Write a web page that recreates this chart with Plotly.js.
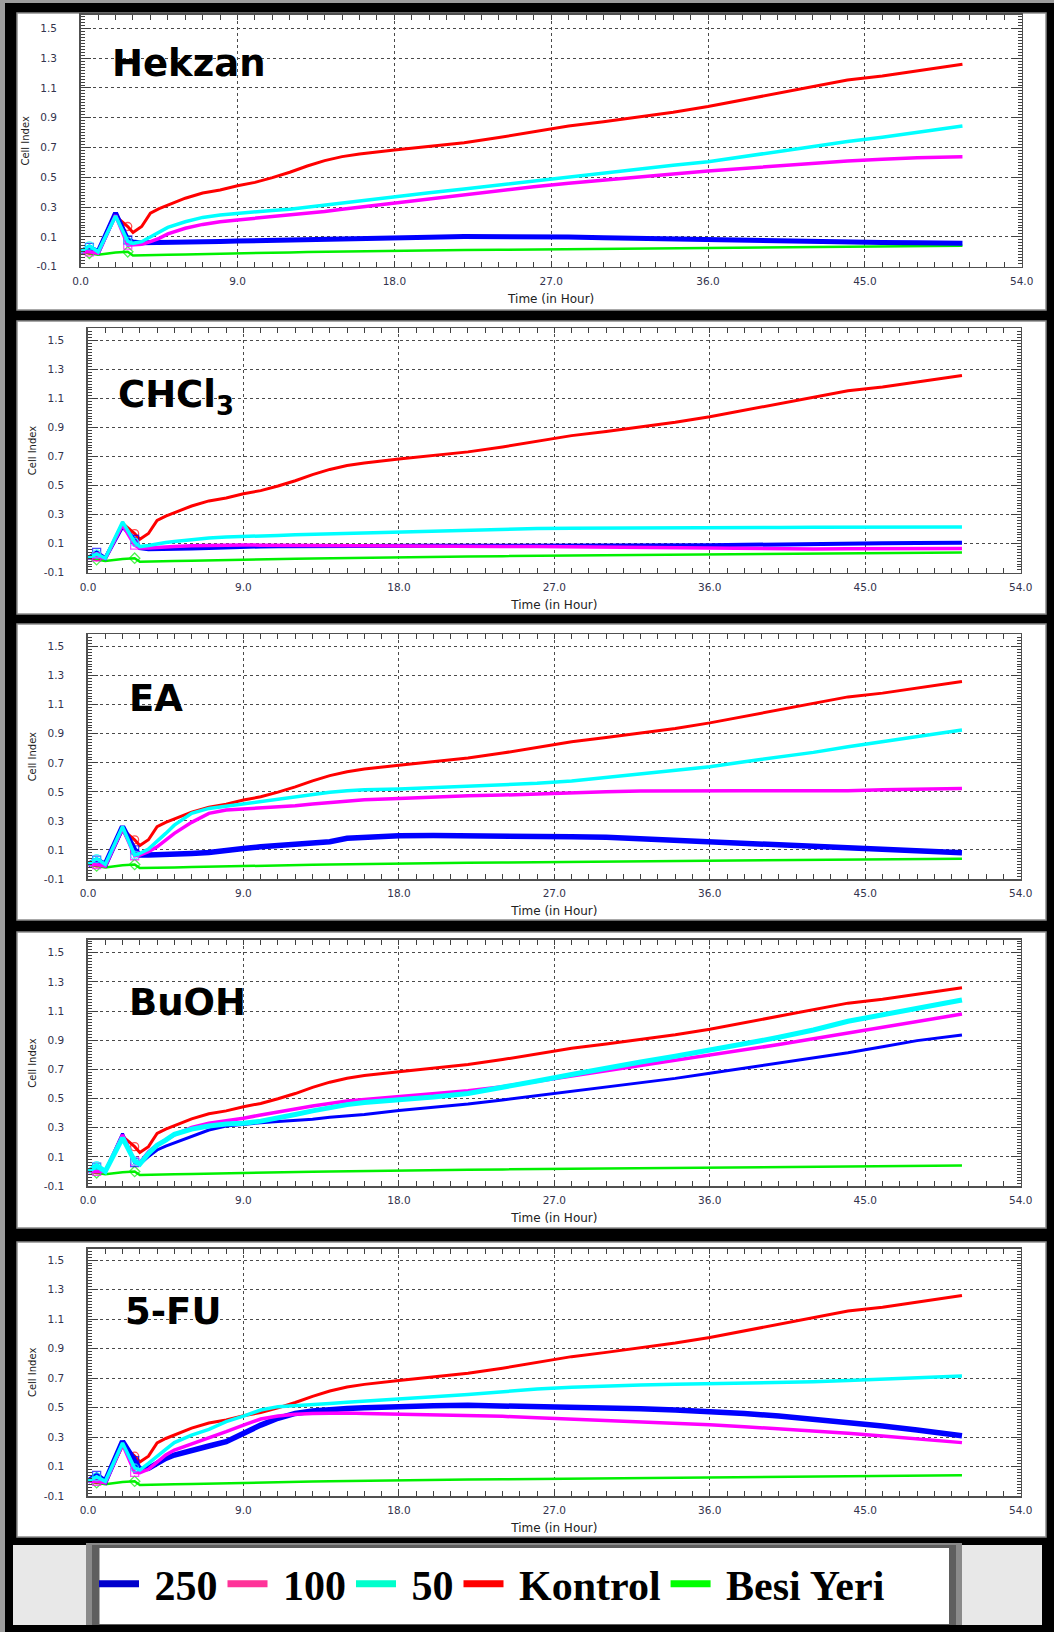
<!DOCTYPE html>
<html>
<head>
<meta charset="utf-8">
<script src="https://cdn.plot.ly/plotly-3.0.1.min.js"></script>
<style>
  html, body { margin: 0; padding: 0; background: #000; }
  #chart { width: 1054px; height: 1632px; }
</style>
</head>
<body>
<div id="chart"></div>
<script>
// ---------------- DATA ----------------
const t = [0, 0.5, 1, 2, 2.7, 3, 3.5, 4, 4.5, 5, 6, 7, 8, 9, 10, 11, 12, 13, 14, 15, 16, 18, 20, 22, 24, 26, 28, 30, 32, 34, 36, 38, 40, 42, 44, 46, 48, 50.6];

const kontrol = [0, 0.01, 0.0, 0.24, 0.17, 0.13, 0.17, 0.26, 0.29, 0.315, 0.36, 0.395, 0.415, 0.444, 0.466, 0.498, 0.534, 0.576, 0.612, 0.639, 0.657, 0.684, 0.706, 0.733, 0.767, 0.807, 0.845, 0.874, 0.903, 0.937, 0.975, 1.02, 1.069, 1.114, 1.154, 1.18, 1.215, 1.26];
const besiYeri = [0, -0.01, -0.02, -0.005, 0, -0.025, -0.025, -0.022, -0.02, -0.02, -0.018, -0.015, -0.013, -0.01, -0.008, -0.006, -0.004, -0.002, 0, 0.002, 0.004, 0.007, 0.01, 0.012, 0.014, 0.016, 0.018, 0.02, 0.023, 0.026, 0.03, 0.032, 0.034, 0.036, 0.038, 0.039, 0.04, 0.04];

const hekzan250 = [0, 0.03, 0.0, 0.26, 0.08, 0.066, 0.06, 0.062, 0.063, 0.064, 0.066, 0.068, 0.07, 0.072, 0.075, 0.078, 0.08, 0.083, 0.086, 0.088, 0.09, 0.095, 0.098, 0.102, 0.103, 0.102, 0.1, 0.095, 0.09, 0.085, 0.08, 0.077, 0.073, 0.069, 0.065, 0.062, 0.06, 0.057];
const hekzan100 = [0, 0.0, -0.01, 0.245, 0.045, 0.045, 0.05, 0.068, 0.09, 0.12, 0.158, 0.184, 0.202, 0.214, 0.225, 0.236, 0.243, 0.254, 0.27, 0.285, 0.299, 0.326, 0.352, 0.381, 0.408, 0.437, 0.46, 0.482, 0.505, 0.523, 0.543, 0.561, 0.576, 0.594, 0.61, 0.621, 0.632, 0.639];
const hekzan50 = [0, 0.04, 0.0, 0.24, 0.07, 0.057, 0.068, 0.1, 0.135, 0.164, 0.202, 0.231, 0.247, 0.258, 0.27, 0.278, 0.285, 0.299, 0.314, 0.33, 0.343, 0.37, 0.397, 0.422, 0.449, 0.476, 0.505, 0.527, 0.554, 0.581, 0.605, 0.639, 0.673, 0.706, 0.74, 0.769, 0.803, 0.845];

const chcl250 = [0, 0.04, 0.0, 0.22, 0.13, 0.07, 0.062, 0.062, 0.063, 0.064, 0.066, 0.07, 0.075, 0.079, 0.081, 0.082, 0.083, 0.084, 0.084, 0.084, 0.084, 0.084, 0.085, 0.085, 0.085, 0.086, 0.086, 0.087, 0.087, 0.088, 0.089, 0.092, 0.096, 0.099, 0.1, 0.103, 0.105, 0.107];
const chcl100 = [0, 0.01, 0.0, 0.23, 0.09, 0.07, 0.07, 0.075, 0.078, 0.08, 0.085, 0.088, 0.09, 0.091, 0.09, 0.089, 0.088, 0.087, 0.086, 0.085, 0.085, 0.084, 0.083, 0.082, 0.081, 0.08, 0.078, 0.075, 0.072, 0.069, 0.066, 0.065, 0.064, 0.064, 0.065, 0.066, 0.066, 0.066];
const chcl50 = [0, 0.03, 0.0, 0.25, 0.11, 0.08, 0.088, 0.1, 0.108, 0.115, 0.128, 0.14, 0.146, 0.148, 0.152, 0.157, 0.162, 0.165, 0.168, 0.171, 0.174, 0.183, 0.19, 0.198, 0.202, 0.205, 0.206, 0.206, 0.207, 0.208, 0.21, 0.211, 0.212, 0.213, 0.214, 0.215, 0.215, 0.215];

const ea250 = [0, 0.03, 0.0, 0.26, 0.1, 0.065, 0.065, 0.066, 0.067, 0.069, 0.076, 0.083, 0.092, 0.11, 0.122, 0.129, 0.138, 0.145, 0.157, 0.18, 0.189, 0.198, 0.2, 0.2, 0.2, 0.196, 0.191, 0.187, 0.177, 0.168, 0.161, 0.152, 0.143, 0.129, 0.118, 0.106, 0.095, 0.081];
const ea100 = [0, 0.0, -0.01, 0.25, 0.06, 0.065, 0.088, 0.122, 0.168, 0.214, 0.29, 0.352, 0.375, 0.382, 0.386, 0.393, 0.405, 0.416, 0.425, 0.437, 0.446, 0.455, 0.467, 0.474, 0.478, 0.487, 0.494, 0.501, 0.506, 0.508, 0.508, 0.508, 0.508, 0.508, 0.508, 0.515, 0.52, 0.524];
const ea50 = [0, 0.04, 0.0, 0.26, 0.065, 0.076, 0.106, 0.157, 0.214, 0.271, 0.352, 0.386, 0.402, 0.416, 0.432, 0.45, 0.467, 0.485, 0.497, 0.508, 0.515, 0.52, 0.529, 0.536, 0.547, 0.559, 0.575, 0.598, 0.623, 0.646, 0.673, 0.708, 0.738, 0.772, 0.811, 0.846, 0.885, 0.926];

const buoh250 = [0, 0.03, 0.0, 0.26, 0.06, 0.05, 0.101, 0.147, 0.174, 0.197, 0.238, 0.284, 0.311, 0.325, 0.334, 0.343, 0.348, 0.357, 0.371, 0.38, 0.391, 0.417, 0.439, 0.462, 0.49, 0.519, 0.551, 0.581, 0.609, 0.638, 0.673, 0.707, 0.741, 0.775, 0.814, 0.855, 0.897, 0.935];
const buoh100 = [0, 0.0, 0.0, 0.25, 0.07, 0.06, 0.135, 0.181, 0.215, 0.25, 0.302, 0.33, 0.348, 0.364, 0.387, 0.405, 0.428, 0.449, 0.467, 0.483, 0.494, 0.513, 0.531, 0.554, 0.581, 0.615, 0.655, 0.69, 0.725, 0.76, 0.795, 0.83, 0.87, 0.91, 0.95, 0.99, 1.03, 1.079];
const buoh50 = [0, 0.04, 0.0, 0.23, 0.07, 0.05, 0.124, 0.18, 0.215, 0.255, 0.29, 0.312, 0.325, 0.33, 0.345, 0.365, 0.39, 0.415, 0.44, 0.458, 0.472, 0.49, 0.51, 0.535, 0.575, 0.62, 0.665, 0.71, 0.75, 0.79, 0.83, 0.875, 0.92, 0.97, 1.03, 1.075, 1.115, 1.175];

const fu250 = [0, 0.04, 0.0, 0.27, 0.14, 0.081, 0.088, 0.126, 0.155, 0.178, 0.212, 0.239, 0.268, 0.325, 0.381, 0.427, 0.46, 0.476, 0.488, 0.494, 0.499, 0.508, 0.512, 0.515, 0.512, 0.506, 0.501, 0.497, 0.492, 0.483, 0.474, 0.46, 0.442, 0.422, 0.397, 0.375, 0.347, 0.309];
const fu100 = [0, 0.0, -0.01, 0.25, 0.06, 0.058, 0.081, 0.133, 0.178, 0.212, 0.253, 0.291, 0.336, 0.381, 0.422, 0.442, 0.454, 0.46, 0.463, 0.463, 0.46, 0.456, 0.451, 0.447, 0.44, 0.431, 0.422, 0.413, 0.404, 0.395, 0.384, 0.37, 0.356, 0.341, 0.325, 0.307, 0.29, 0.262];
const fu50 = [0, 0.03, 0.0, 0.26, 0.09, 0.076, 0.121, 0.171, 0.216, 0.262, 0.313, 0.352, 0.404, 0.442, 0.483, 0.506, 0.515, 0.521, 0.528, 0.535, 0.542, 0.555, 0.573, 0.589, 0.607, 0.625, 0.637, 0.646, 0.653, 0.657, 0.662, 0.664, 0.668, 0.675, 0.684, 0.693, 0.702, 0.714];

const panelNames = ['Hekzan', 'CHCl<sub>3</sub>', 'EA', 'BuOH', '5-FU'];
const seriesNames = ['250', '100', '50', 'Kontrol', 'Besi Yeri'];
const xTickVals = [0, 9, 18, 27, 36, 45, 54];
const xTickText = ['0.0', '9.0', '18.0', '27.0', '36.0', '45.0', '54.0'];
const yTickVals = [-0.1, 0.1, 0.3, 0.5, 0.7, 0.9, 1.1, 1.3, 1.5];
const yTickText = ['-0.1', '0.1', '0.3', '0.5', '0.7', '0.9', '1.1', '1.3', '1.5'];
const xTitle = 'Time (in Hour)';
const yTitle = 'Cell Index';

const panelSeries = [
  [hekzan250, hekzan100, hekzan50],
  [chcl250, chcl100, chcl50],
  [ea250, ea100, ea50],
  [buoh250, buoh100, buoh50],
  [fu250, fu100, fu50]
];

// ---------------- GEOMETRY & STYLE (pixels on the 1054x1632 page) ----------------
const W = 1054, H = 1632;
const px = v => v / W;
const py = v => 1 - v / H;

const panels = [
  { plot: [80.7, 1021.7, 15, 266.7],  ytop: 1.59,  box: [17, 1046, 13, 310],   label: [110, 64] },
  { plot: [88, 1020.7, 328.3, 572.7], ytop: 1.585, box: [17, 1046, 321, 614],  label: [116, 397] },
  { plot: [88, 1020.7, 634.3, 879],   ytop: 1.585, box: [17, 1046, 624, 920],  label: [127, 698] },
  { plot: [88, 1020.7, 940, 1186],    ytop: 1.587, box: [17, 1046, 932, 1228], label: [127, 1002] },
  { plot: [88, 1020.7, 1248.7, 1496], ytop: 1.577, box: [17, 1046, 1242, 1537], label: [123, 1311] }
];

const seriesStyle = [
  { color: '#0000ff', width: 5,   symbol: 'square-open' },   // 250
  { color: '#ff00ff', width: 3.5, symbol: 'square-open' },   // 100
  { color: '#00ffff', width: 3.5, symbol: 'circle-open' },   // 50
  { color: '#ff0000', width: 3,   symbol: 'circle-open' },   // Kontrol
  { color: '#00f000', width: 2.5, symbol: 'diamond-open' }   // Besi Yeri
];
// per-panel line-width overrides (the BuOH panel shows a thin 250 and a thick 50 line)
const widthOverride = [{}, { 0: 4 }, { 0: 5.5 }, { 0: 3, 2: 5 }, { 0: 5.5 }];
const legendColors = ['#0000cc', '#ff3399', '#00ffcc', '#ff0000', '#00ff00'];
const drawOrder = [4, 3, 0, 1, 2];
const markerSizes = t.map((v, i) => (i === 1 || i === 4) ? 8 : 0);

const tickFont = { family: 'DejaVu Sans', size: 10.5, color: '#33334d' };
const gridCol = '#4a4a4a';

// ---------------- BUILD ----------------
const data = [];
const layout = {
  width: W, height: H,
  margin: { l: 0, r: 0, t: 0, b: 0 },
  paper_bgcolor: '#000000',
  plot_bgcolor: '#ffffff',
  showlegend: true,
  shapes: [],
  annotations: [],
  legend: {
    orientation: 'h',
    x: px(94), xanchor: 'left',
    y: py(1584), yanchor: 'middle',
    bgcolor: 'rgba(0,0,0,0)',
    borderwidth: 0,
    itemwidth: 40,
    font: { family: 'Liberation Serif', size: 42, color: '#000', weight: 'bold' }
  }
};

panels.forEach((p, i) => {
  const n = i === 0 ? '' : String(i + 1);
  const xa = 'x' + n, ya = 'y' + n;
  const series = [panelSeries[i][0], panelSeries[i][1], panelSeries[i][2], kontrol, besiYeri];

  drawOrder.forEach(k => {
    const st = seriesStyle[k];
    const w = widthOverride[i][k] !== undefined ? widthOverride[i][k] : st.width;
    data.push({
      type: 'scatter', mode: 'lines+markers',
      x: t, y: series[k], xaxis: xa, yaxis: ya,
      name: seriesNames[k], showlegend: false,
      line: { color: st.color, width: w },
      marker: { symbol: st.symbol, size: markerSizes, color: st.color, line: { color: st.color, width: 1.3 } },
      hoverinfo: 'skip'
    });
  });

  layout['xaxis' + n] = {
    domain: [px(p.plot[0]), px(p.plot[1])],
    anchor: ya, range: [0, 54],
    tickmode: 'array', tickvals: xTickVals, ticktext: xTickText,
    ticks: 'inside', ticklen: 5, tickcolor: '#404040', tickwidth: 1,
    minor: { tick0: 0, dtick: 1, ticks: 'inside', ticklen: 5, tickcolor: '#404040', showgrid: false },
    showline: true, linecolor: '#505050', linewidth: 1.6, mirror: 'allticks',
    showgrid: true, gridcolor: gridCol, griddash: 'dot', gridwidth: 1,
    zeroline: false, tickfont: tickFont, ticklabelstandoff: 4,
    title: { text: xTitle, font: { family: 'DejaVu Sans', size: 12, color: '#222' }, standoff: 8 },
    fixedrange: true
  };
  layout['yaxis' + n] = {
    domain: [py(p.plot[3]), py(p.plot[2])],
    anchor: xa, range: [-0.1, p.ytop],
    tickmode: 'array', tickvals: yTickVals, ticktext: yTickText,
    ticks: 'inside', ticklen: 10, tickcolor: '#404040', tickwidth: 1,
    minor: { tick0: -0.1, dtick: 0.02, ticks: 'inside', ticklen: 4, tickcolor: '#404040', showgrid: false },
    showline: true, linecolor: '#505050', linewidth: 1.6, mirror: 'allticks',
    showgrid: true, gridcolor: gridCol, griddash: 'dot', gridwidth: 1,
    zeroline: false, tickfont: tickFont, ticklabelstandoff: 20,
    title: { text: yTitle, font: { family: 'DejaVu Sans', size: 10, color: '#222' }, standoff: 5 },
    fixedrange: true
  };

  layout.shapes.push({
    type: 'rect', xref: 'paper', yref: 'paper', layer: 'below',
    x0: px(p.box[0]), x1: px(p.box[1]), y0: py(p.box[3]), y1: py(p.box[2]),
    fillcolor: '#ffffff', line: { color: '#8c8c8c', width: 1.5 }
  });
  layout.annotations.push({
    text: panelNames[i], xref: 'paper', yref: 'paper',
    x: px(p.label[0]), y: py(p.label[1]), xanchor: 'left', yanchor: 'middle',
    showarrow: false,
    font: { family: 'DejaVu Sans', size: 37, color: '#000', weight: 'bold' }
  });
});

// frame edges and legend band
layout.shapes.unshift(
  { type: 'rect', xref: 'paper', yref: 'paper', layer: 'below', x0: 0, x1: px(5), y0: 0, y1: 1, fillcolor: '#9c9c9c', line: { width: 0 } },
  { type: 'rect', xref: 'paper', yref: 'paper', layer: 'below', x0: 0, x1: 1, y0: py(3), y1: 1, fillcolor: '#9c9c9c', line: { width: 0 } },
  { type: 'rect', xref: 'paper', yref: 'paper', layer: 'below', x0: px(13), x1: px(1042), y0: py(1625), y1: py(1545), fillcolor: '#e8e8e8', line: { width: 0 } },
  { type: 'rect', xref: 'paper', yref: 'paper', layer: 'below', x0: px(86), x1: px(962), y0: py(1625), y1: py(1543), fillcolor: '#8a8a8a', line: { width: 0 } },
  { type: 'rect', xref: 'paper', yref: 'paper', layer: 'below', x0: px(92), x1: px(956), y0: py(1625), y1: py(1545), fillcolor: '#5e5e5e', line: { width: 0 } },
  { type: 'rect', xref: 'paper', yref: 'paper', layer: 'below', x0: px(99.5), x1: px(949), y0: py(1624), y1: py(1548), fillcolor: '#ffffff', line: { width: 0 } }
);

// legend entries (legend swatches use the legend's own colours)
seriesNames.forEach((nm, k) => {
  data.push({
    type: 'scatter', mode: 'lines', x: [null], y: [null],
    xaxis: 'x', yaxis: 'y',
    name: '\u00a0' + nm, showlegend: true,
    line: { color: legendColors[k], width: 7 },
    hoverinfo: 'skip'
  });
});

Plotly.newPlot('chart', data, layout, { displayModeBar: false, staticPlot: true });
</script>
</body>
</html>
